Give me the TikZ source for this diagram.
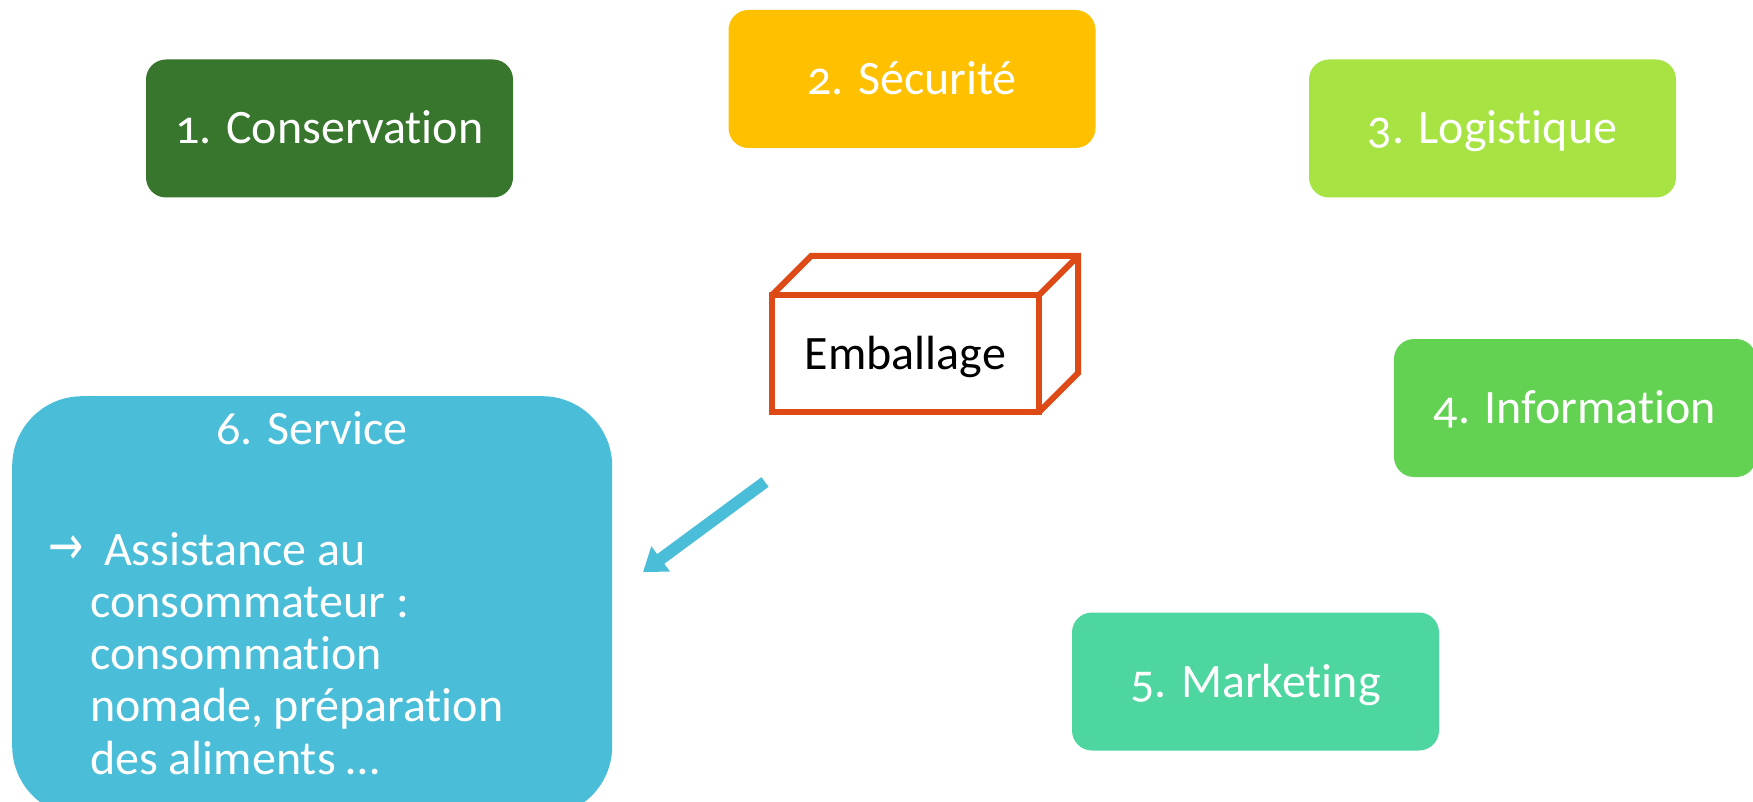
\documentclass[tikz,border=0pt]{standalone}
\usepackage{fontspec}
\usepackage{graphicx}
\setmainfont{Carlito}[Numbers=OldStyle, Ligatures={NoCommon}]
\newfontfamily\symbolfont{DejaVu Sans}
\usetikzlibrary{arrows.meta}

\definecolor{consgreen}{HTML}{38752D}
\definecolor{secyellow}{HTML}{FFC000}
\definecolor{logigreen}{HTML}{A6E343}
\definecolor{infogreen}{HTML}{63D152}
\definecolor{markteal}{HTML}{4DD6A0}
\definecolor{servblue}{HTML}{4ABED8}
\definecolor{boxorange}{HTML}{DE4A16}

\begin{document}
\begin{tikzpicture}[x=1pt,y=-1pt,
  labelfont/.style={font=\fontsize{48}{52.3}\selectfont},
  rolebox/.style={labelfont, rounded corners=20pt, minimum width=367pt,
    minimum height=138pt, inner sep=0pt, text=white,
    text height=31pt, text depth=0pt},
  cubeline/.style={draw=boxorange, line width=6pt, line join=miter},
  bigarrow/.style={draw=servblue, line width=12pt,
    -{Triangle[width=30pt,length=22pt]}}]
\useasboundingbox (0,0) rectangle (1753,802);
\clip (0,0) rectangle (1753,802);

% the six functions of packaging
\node[rolebox, fill=consgreen] (cons) at (329.5,128.5) {1. Conservation};
\node[rolebox, fill=secyellow] (secu) at (912,79) {2. Sécurité};
\node[rolebox, fill=logigreen] (logi) at (1492.5,128.5) {3. Logistique};
\node[rolebox, fill=infogreen, minimum width=362pt] (info) at (1575,408) {4. Information};
\node[rolebox, fill=markteal] (mark) at (1255.5,681.5) {5. Marketing};

% service box, running past the lower edge
\node[fill=servblue, rounded corners=70pt, minimum width=600pt,
  minimum height=420pt, inner sep=0pt, anchor=north west] (serv) at (12,396) {};
\node[labelfont, text=white, inner sep=0pt, text height=31pt, text depth=0pt]
  (servtitle) at (312,429) {6. Service};
\node[text=white, inner sep=0pt, anchor=west,
  font=\symbolfont\fontsize{42}{48}\selectfont] (servmark) at (48,550)
  {\scalebox{1}[1.3]{→}};
% multi-line node: its base anchor sits on the last line
\node[labelfont, text=white, inner sep=0pt, align=left, anchor=base west]
  (servtext) at (90,774.2)
  {\hspace*{14pt}Assistance au\\consommateur :\\consommation\\nomade, préparation\\des aliments …};

% packaging box drawn as a cube
\node[cubeline, fill=white, minimum width=267pt, minimum height=117pt,
  inner sep=0pt, outer sep=0pt, labelfont, text height=31pt, text depth=0pt]
  (pack) at (905.5,353.5) {Emballage};
\draw[cubeline] (pack.north west) -- ++(39,-39) -- ++(267,0) -- ++(0,117)
  -- (pack.south east);
\draw[cubeline] (pack.north east) -- ++(39,-39);

% pointer towards the service box
\coordinate (arrowfrom) at (765,482);
\coordinate (arrowto) at (643,572);
\draw[bigarrow] (arrowfrom) -- (arrowto);
\end{tikzpicture}
\end{document}
